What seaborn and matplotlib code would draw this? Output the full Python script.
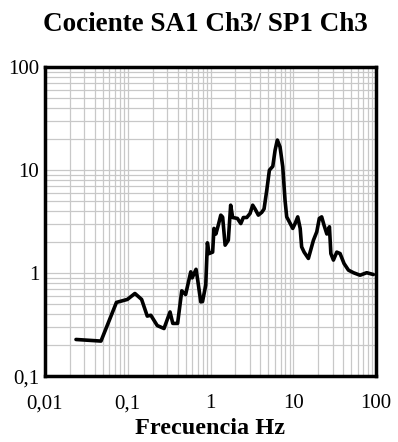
import numpy as np
import matplotlib
matplotlib.use("Agg")
import matplotlib.pyplot as plt
import matplotlib.ticker as mticker
import pandas as pd
import seaborn as sns

# data (log-log spectral ratio)
freq = [0.0237, 0.0475, 0.073, 0.099, 0.122, 0.147, 0.172, 0.19, 0.227, 0.274,
        0.324, 0.35, 0.40, 0.449, 0.50, 0.577, 0.60, 0.668, 0.70, 0.762,
        0.80, 0.875, 0.916, 0.96, 1.06, 1.10, 1.16, 1.24, 1.33, 1.40,
        1.50, 1.64, 1.75, 1.85, 2.11, 2.32, 2.49, 2.74, 3.0, 3.23,
        3.45, 3.78, 4.16, 4.43, 4.78, 5.14, 5.65, 6.02, 6.41, 6.91,
        7.45, 7.94, 8.32, 8.95, 9.84, 10.5, 11.3, 12.1, 12.6, 13.5,
        15.2, 17.5, 19.2, 20.6, 22.0, 23.5, 25.4, 27.3, 28.4, 30.5,
        33.5, 36.7, 41.0, 46.3, 53.2, 64.0, 77.0, 92.7]
ratio = [0.227, 0.219, 0.52, 0.556, 0.635, 0.556, 0.383, 0.39, 0.31, 0.29,
         0.42, 0.325, 0.325, 0.673, 0.62, 1.03, 0.9, 1.09, 0.855, 0.526,
         0.53, 0.765, 1.97, 1.55, 1.6, 2.72, 2.4, 2.92, 3.66, 3.5,
         1.87, 2.09, 4.57, 3.47, 3.4, 3.03, 3.47, 3.47, 3.8, 4.57,
         4.2, 3.66, 3.9, 4.2, 6.4, 10.0, 10.9, 15.6, 19.6, 16.8,
         10.8, 5.1, 3.52, 3.15, 2.72, 3.03, 3.52, 2.72, 1.8, 1.6,
         1.39, 2.09, 2.52, 3.4, 3.52, 2.92, 2.4, 2.82, 1.55, 1.34,
         1.6, 1.55, 1.24, 1.07, 1.01, 0.955, 1.01, 0.97]

xticks = [0.01, 0.1, 1, 10, 100]
xlabels = ["0,01", "0,1", "1", "10", "100"]
yticks = [0.1, 1, 10, 100]
ylabels = ["0,1", "1", "10", "100"]

df = pd.DataFrame({"Frecuencia": freq, "Cociente": ratio})

sns.set_style("white")
plt.rcParams["font.family"] = ["Liberation Serif", "DejaVu Serif"]
plt.rcParams["text.color"] = "black"

fig = plt.figure(figsize=(3.98, 4.42), dpi=100)
ax = fig.add_axes([0.113, 0.149, 0.832, 0.699])

sns.lineplot(data=df, x="Frecuencia", y="Cociente", color="black",
             linewidth=2.6, ax=ax)

ax.set_xscale("log")
ax.set_yscale("log")
ax.set_xlim(0.01, 100)
ax.set_ylim(0.1, 100)

ax.xaxis.set_major_locator(mticker.FixedLocator(xticks))
ax.xaxis.set_major_formatter(mticker.FixedFormatter(xlabels))
ax.yaxis.set_major_locator(mticker.FixedLocator(yticks))
ax.yaxis.set_major_formatter(mticker.FixedFormatter(ylabels))
ax.xaxis.set_minor_locator(mticker.LogLocator(base=10, subs=np.arange(2, 10)))
ax.yaxis.set_minor_locator(mticker.LogLocator(base=10, subs=np.arange(2, 10)))
ax.xaxis.set_minor_formatter(mticker.NullFormatter())
ax.yaxis.set_minor_formatter(mticker.NullFormatter())

ax.grid(True, which="both", color="#c8c8c8", linewidth=0.9)
ax.set_axisbelow(True)
ax.tick_params(which="both", length=0, labelsize=15, colors="black")
ax.tick_params(axis="x", pad=13)
ax.tick_params(axis="y", pad=4)

for s in ax.spines.values():
    s.set_visible(True)
    s.set_color("black")
    s.set_linewidth(2.5)

ax.set_xlabel("")
ax.set_ylabel("")
fig.text(0.528, 1 - 429 / 442, "Frecuencia Hz", fontsize=17.5,
         fontweight="bold", ha="center", va="center", color="black")
fig.text(0.515, 0.945, "Cociente SA1 Ch3/ SP1 Ch3", fontsize=19.5,
         fontweight="bold", ha="center", va="center", color="black")

fig.savefig("out.png", dpi=100)
